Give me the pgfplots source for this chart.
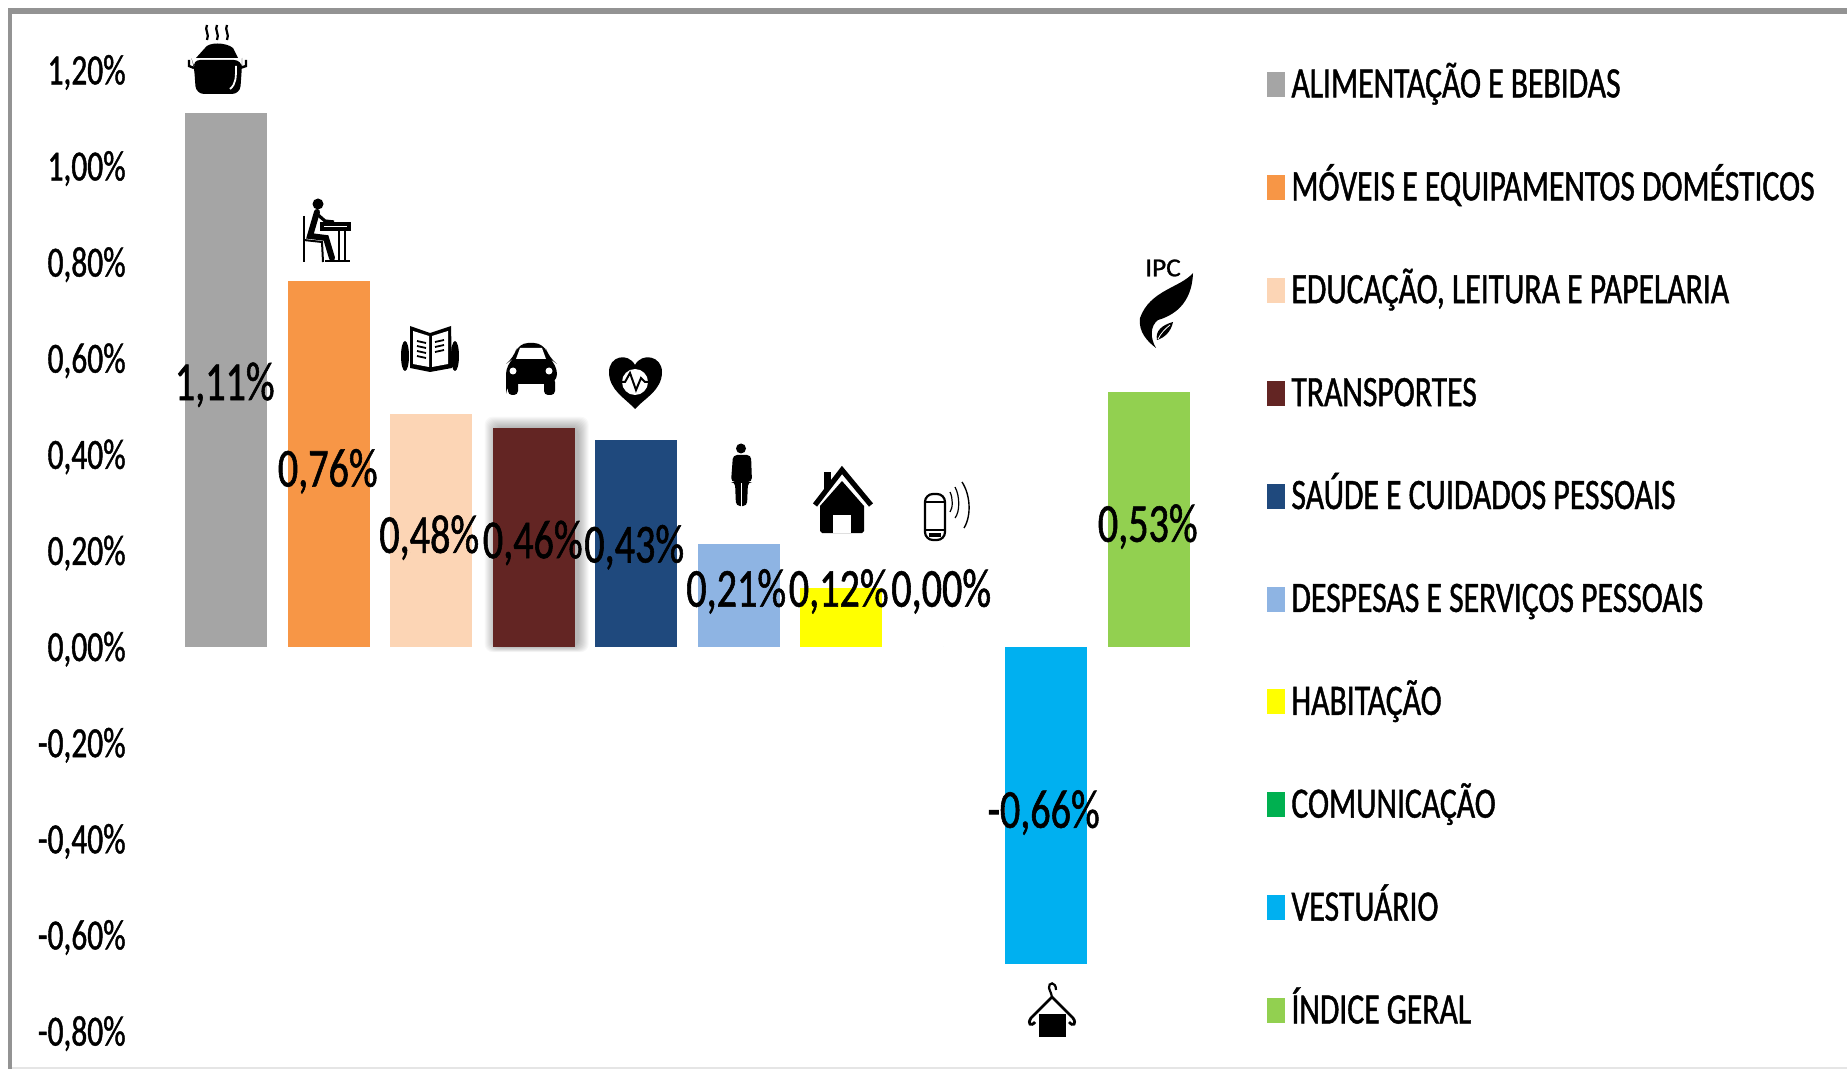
\documentclass[border=0pt]{standalone}
\usepackage{fontspec}
\setmainfont{Carlito}[FakeStretch=0.73,FakeBold=1.0]
\usepackage{pgfplots}
\pgfplotsset{compat=1.18}
\definecolor{cA}{HTML}{A5A5A5}
\definecolor{cB}{HTML}{F79646}
\definecolor{cC}{HTML}{FCD5B5}
\definecolor{cD}{HTML}{632523}
\definecolor{cE}{HTML}{1F497D}
\definecolor{cF}{HTML}{8EB4E3}
\definecolor{cG}{HTML}{FFFF00}
\definecolor{cH}{HTML}{00B050}
\definecolor{cI}{HTML}{00B0F0}
\definecolor{cJ}{HTML}{92D050}
\begin{document}
\begin{tikzpicture}
\path[use as bounding box,fill=white] (0,0) rectangle (923.5pt,-534.5pt);
\begin{scope}[x=0.5pt,y=-0.5pt]
% frame
\fill[gray!85] (8,8) rectangle (1847,14);
\fill[gray!85] (8,8) rectangle (12,1069);
\fill[black!10] (12,1067) rectangle (1847,1069);
% soft shadow behind the TRANSPORTES bar
\foreach \e in {1,2,...,11}{
  \fill[black,opacity=0.028,rounded corners=4pt] (492.7-\e+3,427.7-\e) rectangle (574.7+\e+3,646.7+\e*0.5);
}
\end{scope}
\begin{axis}[
  at={(87.5pt,-515.6pt)},anchor=south west,
  scale only axis,width=512.5pt,height=480.6pt,
  xmin=-0.5,xmax=9.5,ymin=-0.8,ymax=1.2,
  axis line style={draw=none},tick style={draw=none},
  xtick=\empty,
  ytick={-0.8,-0.6,-0.4,-0.2,0,0.2,0.4,0.6,0.8,1,1.2},
  yticklabels={{-0,80\%},{-0,60\%},{-0,40\%},{-0,20\%},{0,00\%},{0,20\%},{0,40\%},{0,60\%},{0,80\%},{1,00\%},{1,20\%}},
  yticklabel style={inner sep=0pt,font=\fontsize{21.5}{24}\selectfont,anchor=east,xshift=-24.5pt,yshift=-1.2pt},
  ybar,bar width=40.95pt,
  clip=false,
  legend columns=1,
  legend cell align=left,
  legend style={at={(1.0654,1.0052)},anchor=north west,draw=none,fill=none,inner sep=0pt,
    row sep=30.45pt,
    font=\fontsize{21.7}{24}\selectfont,
    nodes={inner sep=0pt,text height=16pt,text depth=5pt}},
  legend image code/.code={\fill[#1] (0pt,-5.3pt) rectangle (9pt,7.2pt);\path (12pt,0pt);},
]
\addplot[fill=cA,draw=none,bar shift=0pt] coordinates {(0,1.11)};
\addlegendentry{ALIMENTAÇÃO E BEBIDAS}
\addplot[fill=cB,draw=none,bar shift=0pt] coordinates {(1,0.76)};
\addlegendentry{MÓVEIS E EQUIPAMENTOS DOMÉSTICOS}
\addplot[fill=cC,draw=none,bar shift=0pt] coordinates {(2,0.484)};
\addlegendentry{EDUCAÇÃO, LEITURA E PAPELARIA}
\addplot[fill=cD,draw=none,bar shift=0pt] coordinates {(3,0.456)};
\addlegendentry{TRANSPORTES}
\addplot[fill=cE,draw=none,bar shift=0pt] coordinates {(4,0.431)};
\addlegendentry{SAÚDE E CUIDADOS PESSOAIS}
\addplot[fill=cF,draw=none,bar shift=0pt] coordinates {(5,0.214)};
\addlegendentry{DESPESAS E SERVIÇOS PESSOAIS}
\addplot[fill=cG,draw=none,bar shift=0pt] coordinates {(6,0.122)};
\addlegendentry{HABITAÇÃO}
\addplot[fill=cH,draw=none,bar shift=0pt,bar width=0pt] coordinates {(7,0.00)};
\addlegendentry{COMUNICAÇÃO}
\addplot[fill=cI,draw=none,bar shift=0pt] coordinates {(8,-0.661)};
\addlegendentry{VESTUÁRIO}
\addplot[fill=cJ,draw=none,bar shift=0pt] coordinates {(9,0.53)};
\addlegendentry{ÍNDICE GERAL}
\begin{scope}[every node/.style={font=\fontsize{27.5}{30}\selectfont,inner sep=0pt,anchor=center}]
\node at (axis cs:-0.015,0.545) {1,11\%};
\node at (axis cs:0.99,0.365) {0,76\%};
\node at (axis cs:1.98,0.227) {0,48\%};
\node at (axis cs:2.99,0.216) {0,46\%};
\node at (axis cs:3.98,0.207) {0,43\%};
\node at (axis cs:4.975,0.115) {0,21\%};
\node at (axis cs:5.975,0.115) {0,12\%};
\node at (axis cs:6.975,0.115) {0,00\%};
\node at (axis cs:7.975,-0.345) {-0,66\%};
\node at (axis cs:8.99,0.25) {0,53\%};
\end{scope}
\end{axis}
\begin{scope}[x=0.5pt,y=-0.5pt]
% pot
\foreach \sx in {207,217,227}{\draw[line width=1.1pt] (\sx,25) .. controls (\sx-3,30) and (\sx+3,34) .. (\sx,40);}
\fill (205,48) .. controls (208,42) and (226,42) .. (233,48) -- (238,58) -- (196,58) -- cycle;
\fill[rounded corners=4pt] (192,60) -- (242,60) -- (242,66) -- (240,94) -- (196,94) -- (194,66) -- cycle;
\draw[line width=1.2pt] (189,60) -- (189,66) -- (194,68);
\draw[line width=1.2pt] (246,60) -- (246,66) -- (240,68);
\draw[white,line width=0.9pt] (236,66) .. controls (236,78) and (236,84) .. (230,89);
% person at a desk
\fill (318,204) circle (5.5);
\draw[line width=3pt,line cap=round] (317,212) -- (310,236) -- (326,238) -- (332,258);
\draw[line width=1.6pt] (317,214) -- (325,221) -- (334,222);
\draw[line width=1pt] (304,216) -- (304,262);
\draw[line width=1pt] (304,240) -- (322,242) -- (323,262);
\draw[line width=2.4pt,fill=white] (322,224) rectangle (349,229);
\draw[line width=1.1pt] (339,229) -- (339,260) (345,229) -- (345,260);
\draw[line width=1.2pt] (325,261) -- (350,261);
% book
\fill (410,326) -- (430,333) -- (451,326) -- (452,368) -- (430,372) -- (410,368) -- cycle;
\fill[white] (413,331) -- (429,336) -- (429,367) -- (413,364) -- cycle;
\fill[white] (432,336) -- (448,331) -- (448,364) -- (432,367) -- cycle;
\draw[line width=0.9pt] (417,341) -- (426,343) (417,346) -- (426,348) (417,351) -- (426,353) (417,356) -- (426,358) (435,342) -- (444,340) (435,347) -- (444,345) (435,352) -- (444,350);
\fill (405,356) ellipse (4 and 15);
\fill (455,356) ellipse (4 and 15);
% car
\fill[rounded corners=5pt] (506,391) -- (506,364) -- (514,358) -- (518,343) -- (544,343) -- (549,358) -- (557,364) -- (557,384) -- (506,384) -- cycle;
\fill[rounded corners=2pt] (508,378) rectangle (518,395);
\fill[rounded corners=2pt] (544,378) rectangle (555,395);
\fill[white] (520,348) -- (542,348) -- (546,359) -- (516,359) -- cycle;
\fill[white] (513,371) circle (3.5);
\fill[white] (549,371) circle (3.5);
% heart
\fill (635,409) .. controls (625,398) and (609,390) .. (609,372) .. controls (609,356) and (628,352) .. (635,365) .. controls (642,352) and (662,356) .. (662,372) .. controls (662,390) and (645,398) .. (635,409) -- cycle;
\fill[white] (635,382) circle (13);
\draw[line width=1pt] (613,382) -- (625,382) -- (630,373) -- (636,390) -- (641,378) -- (645,382) -- (658,382);
% standing person
\fill (741,448.5) circle (5);
\fill[rounded corners=2pt] (733,455) -- (751,455) -- (752,482) -- (748,482) -- (747,506) -- (736,506) -- (735,482) -- (731,482) -- cycle;
\draw[white,line width=0.35pt] (741.5,483) -- (741.5,507);
% house
\fill (824,472) rectangle (831,490);
\draw[line width=2.6pt,fill=white] (815,505) -- (842,470) -- (871,505);
\fill (842,481) -- (864,506) -- (864,531) -- (862,533) -- (822,533) -- (820,531) -- (820,506) -- cycle;
\fill[white] (833,533) -- (833,515) -- (851,515) -- (851,533) -- cycle;
% phone
\draw[line width=1.1pt,rounded corners=4pt] (925,494) rectangle (945,540);
\draw[line width=0.6pt] (925,502) -- (945,502) (925,530) -- (945,530);
\fill (929,533) rectangle (941,537);
\draw[line width=0.6pt] (950,492) .. controls (953,498) and (953,508) .. (950,512);
\draw[line width=0.6pt] (955,487) .. controls (960,496) and (960,512) .. (955,518);
\draw[line width=0.7pt] (962,482) .. controls (970,494) and (972,515) .. (964,528);
% hanger
\draw[line width=1.1pt] (1056,990) .. controls (1056,981) and (1048,982) .. (1049,988) .. controls (1050,992) and (1052,994) .. (1052,997);
\draw[line width=1.4pt] (1052,997) -- (1031,1018) .. controls (1027,1024) and (1031,1027) .. (1035,1022);
\draw[line width=1.4pt] (1052,997) -- (1073,1018) .. controls (1077,1024) and (1073,1027) .. (1069,1022);
\fill (1039,1014) rectangle (1066,1037);
% IPC flame
\node[font=\fontsize{13}{15}\selectfont,inner sep=0pt] at (1163,268) {\addfontfeature{FakeStretch=1.05}IPC};
\fill (1193,273) .. controls (1180,288) and (1150,290) .. (1140,318) .. controls (1138,332) and (1148,342) .. (1156,348) .. controls (1150,338) and (1150,326) .. (1158,320) .. controls (1172,316) and (1192,305) .. (1193,273) -- cycle;
\fill (1157,340) .. controls (1155,331) and (1162,325) .. (1173,322) .. controls (1171,332) and (1164,338) .. (1157,340) -- cycle;
\draw[white,line width=0.4pt] (1158,339) .. controls (1161,333) and (1165,329) .. (1170,325);
\end{scope}
\end{tikzpicture}
\end{document}
